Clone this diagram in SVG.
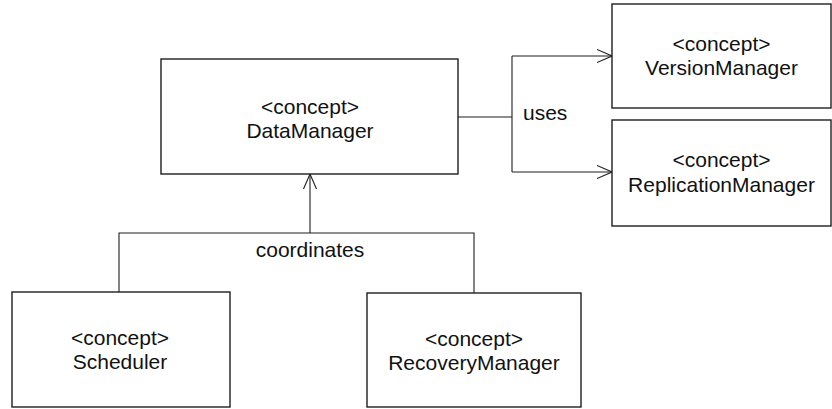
<svg xmlns="http://www.w3.org/2000/svg" width="832" height="409" viewBox="0 0 832 409">
  <style>
    .box { fill: #ffffff; stroke: #1e1e1e; stroke-width: 1.4; }
    .lbl { font-family: "Liberation Sans", Arial, sans-serif; font-size: 21px; fill: #111111; text-anchor: middle; }
    .conn { fill: none; stroke: #1e1e1e; stroke-width: 1.1; }
  </style>
  <defs>
    <marker id="open" viewBox="0 0 16 14" refX="15" refY="7" markerWidth="16" markerHeight="14" markerUnits="userSpaceOnUse" orient="auto">
      <path d="M0,0.5 L15,7 L0,13.5" fill="none" stroke="#1e1e1e" stroke-width="1.1"/>
    </marker>
  </defs>
  <rect width="832" height="409" fill="#ffffff"/>

  <g id="connectors">
    <!-- uses: DataManager to the two managers on the right -->
    <path class="conn" d="M458,117 H512"/>
    <path class="conn" d="M512,56 V172"/>
    <path class="conn" d="M512,56 H612" marker-end="url(#open)"/>
    <path class="conn" d="M512,172 H612" marker-end="url(#open)"/>
    <text class="lbl" x="523" y="120" style="text-anchor:start">uses</text>
    <!-- coordinates: Scheduler and RecoveryManager up to DataManager -->
    <path class="conn" d="M119,292 V233 H474 V293"/>
    <path class="conn" d="M310,233 V174" marker-end="url(#open)"/>
    <text class="lbl" x="310" y="257">coordinates</text>
  </g>

  <g id="DataManager">
    <rect class="box" x="161" y="59" width="297" height="115"/>
    <text class="lbl" x="310" y="114">&lt;concept&gt;</text>
    <text class="lbl" x="310" y="138">DataManager</text>
  </g>

  <g id="VersionManager">
    <rect class="box" x="612" y="4" width="219" height="104"/>
    <text class="lbl" x="721.5" y="51">&lt;concept&gt;</text>
    <text class="lbl" x="721.5" y="75">VersionManager</text>
  </g>

  <g id="ReplicationManager">
    <rect class="box" x="612" y="120" width="219" height="106"/>
    <text class="lbl" x="721.5" y="167">&lt;concept&gt;</text>
    <text class="lbl" x="721.5" y="192">ReplicationManager</text>
  </g>

  <g id="Scheduler">
    <rect class="box" x="12" y="292" width="218" height="115"/>
    <text class="lbl" x="120" y="345">&lt;concept&gt;</text>
    <text class="lbl" x="120" y="369">Scheduler</text>
  </g>

  <g id="RecoveryManager">
    <rect class="box" x="367" y="293" width="214" height="114"/>
    <text class="lbl" x="474" y="346">&lt;concept&gt;</text>
    <text class="lbl" x="474" y="370">RecoveryManager</text>
  </g>
</svg>
